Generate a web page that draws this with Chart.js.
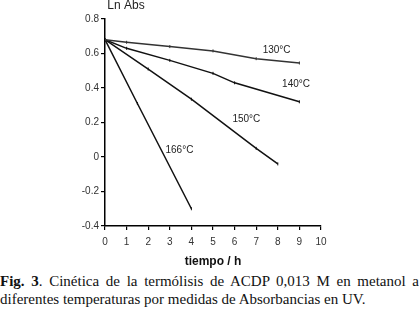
<!DOCTYPE html>
<html>
<head>
<meta charset="utf-8">
<script src="https://cdn.jsdelivr.net/npm/chart.js@4.4.1/dist/chart.umd.min.js"></script>
<style>
  html, body { margin: 0; padding: 0; background: #fff; }
  #wrap { position: relative; width: 419px; height: 310px; overflow: hidden; }
  #box { position: absolute; left: 0; top: 0; width: 419px; height: 270px; }
  .caption {
    position: absolute; left: 0; top: 272px; width: 419px;
    font-family: "Liberation Serif", "Times New Roman", serif;
    font-size: 15px; line-height: 18px; color: #111;
    text-align: justify; text-align-last: left;
  }
</style>
</head>
<body>
<div id="wrap">
  <div id="box"><canvas id="chart"></canvas></div>
  <div class="caption"><b>Fig. 3</b>. Cinética de la termólisis de ACDP 0,013 M en metanol a diferentes temperaturas por medidas de Absorbancias en UV.</div>
</div>
<script>
// tiempo (h) and Ln Abs for each temperature
const t130 = [0, 1, 3, 5, 7, 9];
const y130 = [0.68, 0.665, 0.64, 0.615, 0.57, 0.545];
const t140 = [0, 1, 3, 5, 6, 9];
const y140 = [0.68, 0.63, 0.56, 0.485, 0.43, 0.32];
const t150 = [0, 2, 4, 7, 8];
const y150 = [0.68, 0.51, 0.335, 0.05, -0.04];
const t166 = [0, 1.5, 4];
const y166 = [0.68, 0.31, -0.3];

const seriesNames = ['130°C', '140°C', '150°C', '166°C'];
// where each label sits, in data units (x, y)
const labelX = [7.3, 8.2, 5.9, 2.8];
const labelY = [0.62, 0.42, 0.22, 0.04];

const xTicks = [0, 1, 2, 3, 4, 5, 6, 7, 8, 9, 10];
const yTicks = [-0.4, -0.2, 0, 0.2, 0.4, 0.6, 0.8];

const zip = (xs, ys) => xs.map((x, i) => ({ x: x, y: ys[i] }));

const mkSet = (name, xs, ys, color) => ({
  label: name,
  data: zip(xs, ys),
  borderColor: color,
  backgroundColor: color,
  borderWidth: 1.5,
  pointStyle: 'line',
  rotation: 90,
  pointRadius: 1.5,
  pointBorderWidth: 1,
  tension: 0,
  showLine: true
});

const labelsPlugin = {
  id: 'labels',
  afterDraw(chart) {
    const ctx = chart.ctx;
    const xs = chart.scales.x, ys = chart.scales.y;
    ctx.save();
    ctx.fillStyle = '#222';
    ctx.font = '10px "Liberation Sans", Arial, sans-serif';
    ctx.textBaseline = 'middle';
    ctx.textAlign = 'left';
    seriesNames.forEach((n, i) => {
      ctx.fillText(n, xs.getPixelForValue(labelX[i]), ys.getPixelForValue(labelY[i]));
    });
    // y axis title above the axis
    ctx.font = '12px "Liberation Sans", Arial, sans-serif';
    ctx.textAlign = 'center';
    ctx.fillText('Ln Abs', chart.chartArea.left + 21, 6);
    ctx.restore();
  }
};

new Chart(document.getElementById('chart'), {
  type: 'scatter',
  data: {
    datasets: [
      mkSet(seriesNames[0], t130, y130, '#333'),
      mkSet(seriesNames[1], t140, y140, '#111'),
      mkSet(seriesNames[2], t150, y150, '#111'),
      mkSet(seriesNames[3], t166, y166, '#111')
    ]
  },
  options: {
    responsive: true,
    maintainAspectRatio: false,
    animation: false,
    layout: { padding: { left: 0, right: 98, top: 19, bottom: 0 } },
    plugins: { legend: { display: false }, tooltip: { enabled: false } },
    scales: {
      x: {
        type: 'linear', min: 0, max: 10,
        afterFit: s => { s.height = 44; },
        afterBuildTicks: s => { s.ticks = xTicks.map(v => ({ value: v })); },
        grid: { drawOnChartArea: false, drawTicks: true, tickLength: 4, color: '#000', lineWidth: 1.2 },
        border: { display: true, color: '#000', width: 1.5 },
        ticks: { color: '#333', padding: 6, maxRotation: 0,
                 font: { family: '"Liberation Sans", Arial, sans-serif', size: 10 } },
        title: { display: true, text: 'tiempo / h', color: '#111',
                 padding: { top: 0, bottom: 1 },
                 font: { family: '"Liberation Sans", Arial, sans-serif', size: 12, weight: 'bold' } }
      },
      y: {
        type: 'linear', min: -0.4, max: 0.8,
        afterFit: s => { s.width = 105; },
        afterBuildTicks: s => { s.ticks = yTicks.map(v => ({ value: v })); },
        grid: { drawOnChartArea: false, drawTicks: true, tickLength: 4, color: '#000', lineWidth: 1.2 },
        border: { display: true, color: '#000', width: 1.5 },
        ticks: { color: '#333', padding: 2,
                 font: { family: '"Liberation Sans", Arial, sans-serif', size: 10 },
                 callback: v => (Math.abs(v) < 1e-9 ? '0' : (Math.round(v * 10) / 10).toFixed(1)) }
      }
    }
  },
  plugins: [labelsPlugin]
});
</script>
</body>
</html>
